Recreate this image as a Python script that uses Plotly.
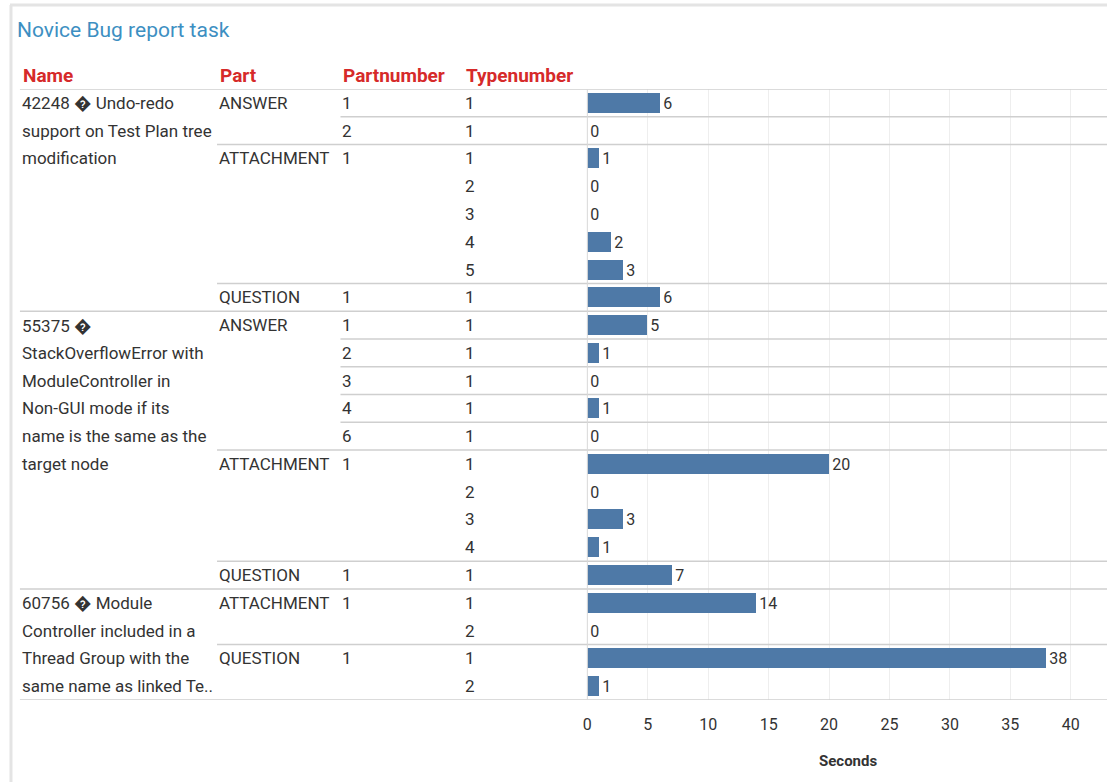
import plotly.graph_objects as go

# ---- data -------------------------------------------------------------
name_lines = [
    ["42248 \ufffd Undo-redo", "support on Test Plan tree", "modification"],
    ["55375 \ufffd", "StackOverflowError with", "ModuleController in",
     "Non-GUI mode if its", "name is the same as the", "target node"],
    ["60756 \ufffd Module", "Controller included in a", "Thread Group with the",
     "same name as linked Te.."],
]
name_of_row = [0] * 8 + [1] * 10 + [2] * 4
parts = ["ANSWER", "ANSWER", "ATTACHMENT", "ATTACHMENT", "ATTACHMENT", "ATTACHMENT",
         "ATTACHMENT", "QUESTION",
         "ANSWER", "ANSWER", "ANSWER", "ANSWER", "ANSWER",
         "ATTACHMENT", "ATTACHMENT", "ATTACHMENT", "ATTACHMENT", "QUESTION",
         "ATTACHMENT", "ATTACHMENT", "QUESTION", "QUESTION"]
partnumbers = [1, 2, 1, 1, 1, 1, 1, 1,
               1, 2, 3, 4, 6, 1, 1, 1, 1, 1,
               1, 1, 1, 1]
typenumbers = [1, 1, 1, 2, 3, 4, 5, 1,
               1, 1, 1, 1, 1, 1, 2, 3, 4, 1,
               1, 2, 1, 2]
seconds = [6, 0, 1, 0, 0, 2, 3, 6,
           5, 1, 0, 1, 0, 20, 0, 3, 1, 7,
           14, 0, 38, 1]
x_ticks = [0, 5, 10, 15, 20, 25, 30, 35, 40]

# ---- page geometry ----------------------------------------------------
W, H = 1107, 782
n = len(seconds)
top_px, bot_px = 89, 700          # table body edges
pane_left_px = 585                # start of the bar pane
col_px = {"name": 15, "part": 213, "pn": 337, "tn": 460}
line_px = {"name": 15, "part": 213, "pn": 337}

def px(x):
    return x / W

font_family = "Roboto, sans-serif"
text_col = "#333333"
head_col = "#d62a2a"
sep_col = "#cfcfcf"
bar_col = "#4e79a7"
body_size = 17

rows = [i + 0.5 for i in range(n)]

fig = go.Figure()
fig.add_trace(go.Bar(
    x=seconds, y=rows, orientation="h", width=0.72,
    marker=dict(color=bar_col, line=dict(width=0)),
    text=[str(v) for v in seconds], textposition="outside",
    textfont=dict(family=font_family, size=16, color=text_col),
    cliponaxis=False, hoverinfo="skip",
))

annotations = []
shapes = []

def cell(x, y, text, size=body_size, color=text_col, yref="y", xanchor="left"):
    annotations.append(dict(x=x, y=y, xref="paper", yref=yref, text=text,
                            showarrow=False, xanchor=xanchor, yanchor="middle",
                            font=dict(family=font_family, size=size, color=color)))

# title and column headers
cell(px(10), 1 - 30 / H, "Novice Bug report task", size=21, color="#3d8fc2", yref="paper")
for key, label in [("name", "Name"), ("part", "Part"), ("pn", "Partnumber"), ("tn", "Typenumber")]:
    cell(px(col_px[key] + 1), 1 - 75 / H, "<b>" + label + "</b>", size=19, color=head_col, yref="paper")

# table cells and separators
for i in range(n):
    new_name = i == 0 or name_of_row[i] != name_of_row[i - 1]
    new_part = new_name or parts[i] != parts[i - 1]
    new_pn = new_part or partnumbers[i] != partnumbers[i - 1]
    if new_name:
        for k, line in enumerate(name_lines[name_of_row[i]]):
            cell(px(col_px["name"]), rows[i + k], line)
    if new_part:
        cell(px(col_px["part"]), rows[i], parts[i])
    if new_pn:
        cell(px(col_px["pn"]), rows[i], str(partnumbers[i]))
    cell(px(col_px["tn"]), rows[i], str(typenumbers[i]))
    if new_name:
        x0 = line_px["name"]
    elif new_part:
        x0 = line_px["part"]
    elif new_pn:
        x0 = line_px["pn"]
    else:
        x0 = None
    if x0 is not None:
        shapes.append(dict(type="line", xref="paper", yref="y", x0=px(x0), x1=1,
                           y0=i, y1=i, line=dict(color=sep_col, width=1.5)))
# bottom rule
shapes.append(dict(type="line", xref="paper", yref="y", x0=px(line_px["name"]), x1=1,
                   y0=n, y1=n, line=dict(color=sep_col, width=1.5)))
# pane left edge
shapes.append(dict(type="line", xref="paper", yref="paper", x0=px(pane_left_px),
                   x1=px(pane_left_px), y0=1 - bot_px / H, y1=1 - top_px / H,
                   line=dict(color="#d9d9d9", width=1)))
# outer frame
shapes.append(dict(type="line", xref="paper", yref="paper", x0=px(5), x1=1,
                   y0=1 - 5 / H, y1=1 - 5 / H, line=dict(color="#e4e4e4", width=3)))
shapes.append(dict(type="line", xref="paper", yref="paper", x0=px(6), x1=px(6),
                   y0=0, y1=1 - 5 / H, line=dict(color="#e4e4e4", width=3)))

# axis title
x_max = (W - pane_left_px) / 12.14
cell(px(847), 1 - 761 / H, "<b>Seconds</b>", size=15, yref="paper", xanchor="center")

fig.update_layout(
    width=W, height=H,
    margin=dict(l=0, r=0, t=0, b=0),
    paper_bgcolor="white", plot_bgcolor="white",
    showlegend=False,
    bargap=0,
    font=dict(family=font_family, color=text_col),
    xaxis=dict(domain=[px(pane_left_px), 1], range=[0, x_max],
               tickvals=x_ticks, ticktext=[str(t) for t in x_ticks],
               showgrid=True, gridcolor="#eeeeee", gridwidth=1,
               zeroline=False, showline=False, ticks="",
               ticklabelstandoff=13,
               tickfont=dict(family=font_family, size=16, color=text_col)),
    yaxis=dict(domain=[1 - bot_px / H, 1 - top_px / H], range=[n, 0],
               showgrid=False, zeroline=False, showticklabels=False, ticks=""),
    annotations=annotations,
    shapes=shapes,
)

fig.write_html("out.html")
